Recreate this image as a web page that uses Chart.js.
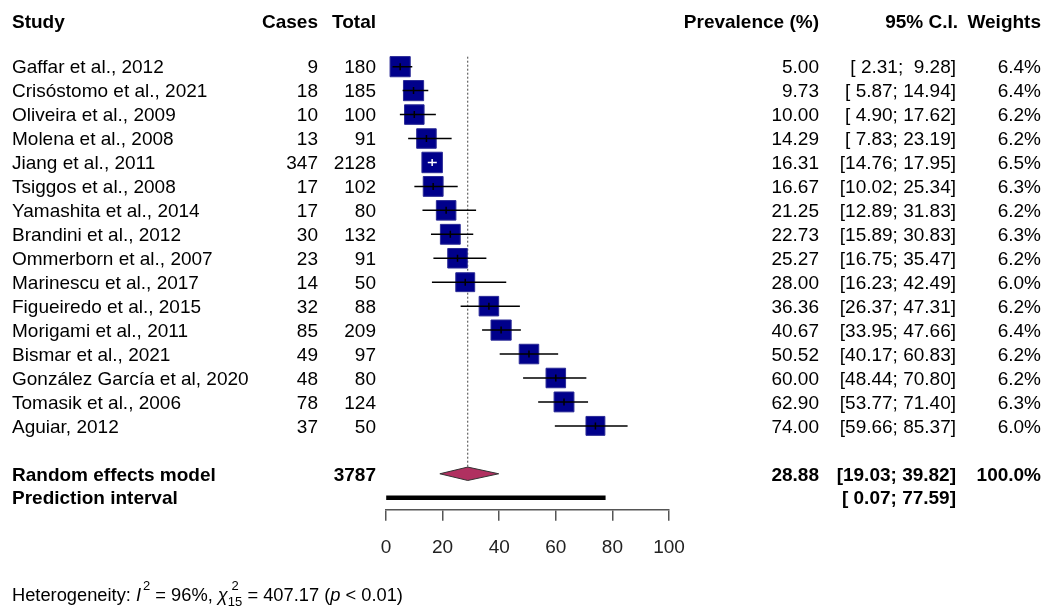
<!DOCTYPE html>
<html>
<head>
<meta charset="utf-8">
<script src="https://cdn.jsdelivr.net/npm/chart.js@4.4.1/dist/chart.umd.min.js"></script>
<style>
  html, body { margin: 0; padding: 0; background: #fff; }
  #wrap { width: 1046px; height: 610px; }
</style>
</head>
<body>
<div id="wrap"><canvas id="forest"></canvas></div>
<script>
const studies = [
  'Gaffar et al., 2012', 'Crisóstomo et al., 2021', 'Oliveira et al., 2009',
  'Molena et al., 2008', 'Jiang et al., 2011', 'Tsiggos et al., 2008',
  'Yamashita et al., 2014', 'Brandini et al., 2012', 'Ommerborn et al., 2007',
  'Marinescu et al., 2017', 'Figueiredo et al., 2015', 'Morigami et al., 2011',
  'Bismar et al., 2021', 'González García et al, 2020', 'Tomasik et al., 2006',
  'Aguiar, 2012'
];
const cases = [9, 18, 10, 13, 347, 17, 17, 30, 23, 14, 32, 85, 49, 48, 78, 37];
const totals = [180, 185, 100, 91, 2128, 102, 80, 132, 91, 50, 88, 209, 97, 80, 124, 50];
const prevalence = [5.00, 9.73, 10.00, 14.29, 16.31, 16.67, 21.25, 22.73, 25.27, 28.00, 36.36, 40.67, 50.52, 60.00, 62.90, 74.00];
const ciLower = [2.31, 5.87, 4.90, 7.83, 14.76, 10.02, 12.89, 15.89, 16.75, 16.23, 26.37, 33.95, 40.17, 48.44, 53.77, 59.66];
const ciUpper = [9.28, 14.94, 17.62, 23.19, 17.95, 25.34, 31.83, 30.83, 35.47, 42.49, 47.31, 47.66, 60.83, 70.80, 71.40, 85.37];
const weights = [6.4, 6.4, 6.2, 6.2, 6.5, 6.3, 6.2, 6.3, 6.2, 6.0, 6.2, 6.4, 6.2, 6.2, 6.3, 6.0];

const pooled = [28.88, 19.03, 39.82];      // estimate, lower, upper
const prediction = [0.07, 77.59];
const totalN = 3787;
const xTicks = [0, 20, 40, 60, 80, 100];

const pooledRow = studies.length + 1;
const predRow = studies.length + 2;
const hetRow = studies.length + 6;

const FONT = '"Liberation Sans", Arial, sans-serif';
Chart.defaults.font.family = FONT;

function fmt(v) {
  return v.toFixed(2).padStart(5, ' ');
}
function ciText(lo, hi) {
  return '[' + fmt(lo) + '; ' + fmt(hi) + ']';
}

function boxSide(w) {
  return w * 3.15;
}

function drawHet(ctx, x, y) {
  const base = '18.3px ' + FONT;
  const ital = 'italic 18.3px ' + FONT;
  const small = '13px ' + FONT;
  ctx.textAlign = 'left';
  ctx.textBaseline = 'middle';
  const put = (t, f, dy) => {
    ctx.font = f;
    ctx.fillText(t, x, y + (dy || 0));
    x += ctx.measureText(t).width;
  };
  put('Heterogeneity: ', base);
  put('I', ital);
  x += 2;
  put('2', small, -9);
  put(' = 96%, ', base);
  put('χ', ital);
  ctx.font = small;
  const w15 = ctx.measureText('15').width;
  const w2 = ctx.measureText('2').width;
  ctx.fillText('2', x + (w15 - w2) / 2, y - 9);
  ctx.fillText('15', x, y + 7);
  x += w15;
  put(' = 407.17 (', base);
  put('p', ital);
  put(' < 0.01)', base);
}

const forestExtras = {
  id: 'forestExtras',
  beforeDatasetsDraw(chart) {
    const { ctx, scales: { x, y }, chartArea } = chart;
    ctx.save();
    ctx.strokeStyle = '#444';
    ctx.lineWidth = 1;
    ctx.setLineDash([2, 2]);
    const px = x.getPixelForValue(pooled[0]);
    ctx.beginPath();
    ctx.moveTo(px, chartArea.top + 2);
    ctx.lineTo(px, y.getPixelForValue(pooledRow - 0.28));
    ctx.stroke();
    ctx.restore();
  },
  afterDatasetsDraw(chart) {
    const { ctx, scales: { x, y } } = chart;
    ctx.save();
    ctx.lineWidth = 1.5;
    prevalence.forEach((p, i) => {
      const py = y.getPixelForValue(i);
      const px = x.getPixelForValue(p);
      const lo = x.getPixelForValue(ciLower[i]);
      const hi = x.getPixelForValue(ciUpper[i]);
      const half = boxSide(weights[i]) / 2;
      ctx.strokeStyle = (lo > px - half && hi < px + half) ? '#fff' : '#000';
      ctx.beginPath();
      ctx.moveTo(lo, py);
      ctx.lineTo(hi, py);
      ctx.moveTo(px, py - 3.5);
      ctx.lineTo(px, py + 3.5);
      ctx.stroke();
    });

    // pooled diamond
    const dy = y.getPixelForValue(pooledRow);
    const h = y.getPixelForValue(pooledRow + 0.28) - dy;
    ctx.beginPath();
    ctx.moveTo(x.getPixelForValue(pooled[1]), dy);
    ctx.lineTo(x.getPixelForValue(pooled[0]), dy - h);
    ctx.lineTo(x.getPixelForValue(pooled[2]), dy);
    ctx.lineTo(x.getPixelForValue(pooled[0]), dy + h);
    ctx.closePath();
    ctx.fillStyle = '#B03060';
    ctx.fill();
    ctx.strokeStyle = '#333';
    ctx.lineWidth = 1;
    ctx.stroke();
    ctx.restore();
  },
  afterDraw(chart) {
    const { ctx, scales: { y } } = chart;
    const reg = '19px ' + FONT;
    const bold = 'bold 19px ' + FONT;
    const rowY = r => y.getPixelForValue(r) + 1.5;
    const text = (t, xx, r, align, f) => {
      ctx.font = f;
      ctx.textAlign = align;
      ctx.fillText(t, xx, rowY(r));
    };
    ctx.save();
    ctx.fillStyle = '#000';
    ctx.textBaseline = 'middle';

    const hr = -1.9;
    text('Study', 12, hr, 'left', bold);
    text('Cases', 318, hr, 'right', bold);
    text('Total', 376, hr, 'right', bold);
    text('Prevalence (%)', 819, hr, 'right', bold);
    text('95% C.I.', 958, hr, 'right', bold);
    text('Weights', 1041, hr, 'right', bold);

    studies.forEach((s, i) => {
      text(s, 12, i, 'left', reg);
      text(String(cases[i]), 318, i, 'right', reg);
      text(String(totals[i]), 376, i, 'right', reg);
      text(prevalence[i].toFixed(2), 819, i, 'right', reg);
      text(ciText(ciLower[i], ciUpper[i]), 956, i, 'right', reg);
      text(weights[i].toFixed(1) + '%', 1041, i, 'right', reg);
    });

    const wSum = weights.reduce((a, b) => a + b, 0);
    text('Random effects model', 12, pooledRow, 'left', bold);
    text(String(totalN), 376, pooledRow, 'right', bold);
    text(pooled[0].toFixed(2), 819, pooledRow, 'right', bold);
    text(ciText(pooled[1], pooled[2]), 956, pooledRow, 'right', bold);
    text(Math.round(wSum / 100) * 100 + '.0%', 1041, pooledRow, 'right', bold);

    text('Prediction interval', 12, predRow, 'left', bold);
    text(ciText(prediction[0], prediction[1]), 956, predRow, 'right', bold);

    drawHet(ctx, 12, y.getPixelForValue(hetRow) + 2);
    ctx.restore();
  }
};

new Chart(document.getElementById('forest'), {
  data: {
    datasets: [
      {
        type: 'scatter',
        label: 'Studies',
        data: prevalence.map((p, i) => ({ x: p, y: i })),
        pointStyle: 'rect',
        pointRadius: weights.map(w => boxSide(w) / Math.SQRT2),
        pointHoverRadius: weights.map(w => boxSide(w) / Math.SQRT2),
        backgroundColor: '#00008B',
        borderColor: '#2a2a96',
        borderWidth: 1,
        clip: false
      },
      {
        type: 'line',
        label: 'Prediction interval',
        data: prediction.map(v => ({ x: v, y: predRow })),
        borderColor: '#000',
        borderWidth: 4.5,
        borderCapStyle: 'butt',
        pointRadius: 0,
        clip: false
      }
    ]
  },
  options: {
    responsive: true,
    maintainAspectRatio: false,
    devicePixelRatio: 1,
    animation: false,
    layout: {
      padding: { left: 386, right: 377, top: 54.7, bottom: 34.5 }
    },
    plugins: {
      legend: { display: false },
      tooltip: { enabled: false }
    },
    scales: {
      x: {
        type: 'linear',
        min: 0,
        max: 100,
        afterBuildTicks: axis => {
          axis.ticks = xTicks.map(v => ({ value: v }));
        },
        ticks: {
          font: { size: 19 },
          color: '#222',
          padding: 16
        },
        grid: {
          drawOnChartArea: false,
          drawTicks: true,
          tickLength: 11,
          color: '#555',
          lineWidth: 1.5
        },
        border: { display: true, color: '#555', width: 1.5 }
      },
      y: {
        type: 'linear',
        reverse: true,
        min: -0.5,
        max: predRow + 0.5,
        display: false
      }
    }
  },
  plugins: [forestExtras]
});
</script>
</body>
</html>
